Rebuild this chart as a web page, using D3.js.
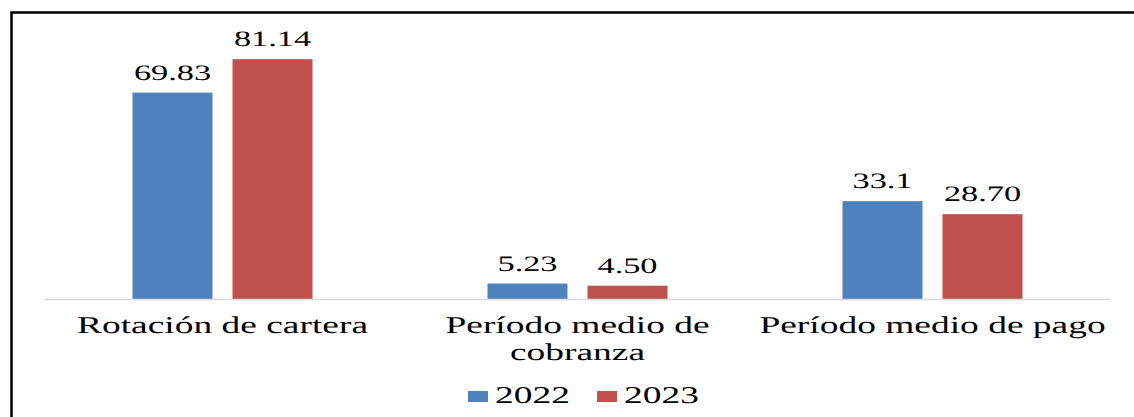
<!DOCTYPE html>
<html>
<head>
<meta charset="utf-8">
<script src="https://cdn.jsdelivr.net/npm/d3@7"></script>
<style>
  html, body { margin: 0; padding: 0; background: #fff; }
  svg { display: block; }
</style>
</head>
<body>
<div id="chart"></div>
<script>
const categories = [["Rotación de cartera"], ["Período medio de", "cobranza"], ["Período medio de pago"]];
const years = ["2022", "2023"];
const values2022 = [69.83, 5.23, 33.1];
const labels2022 = ["69.83", "5.23", "33.1"];
const values2023 = [81.14, 4.50, 28.70];
const labels2023 = ["81.14", "4.50", "28.70"];
const colors = { "2022": "#4F81BD", "2023": "#C0504D" };

const width = 1134, height = 417;
const stretch = 1.56; // the picture is stretched sideways
const plot = { left: 45, right: 1110, base: 299, top: 33 };
const serif = "'Liberation Serif', 'Times New Roman', Times, serif";

const svg = d3.select("#chart").append("svg")
  .attr("width", width)
  .attr("height", height)
  .style("font-family", serif)
  .style("text-rendering", "geometricPrecision");

// frame
svg.append("rect")
  .attr("x", 11.5).attr("y", 12.5)
  .attr("width", 1200).attr("height", 500)
  .attr("fill", "none")
  .attr("stroke", "#000")
  .attr("stroke-width", 2.5);

const keys = categories.map(c => c.join(" "));
const rows = keys.map((k, i) => ({
  key: k,
  lines: categories[i],
  bars: [
    { year: "2022", value: values2022[i], label: labels2022[i] },
    { year: "2023", value: values2023[i], label: labels2023[i] }
  ]
}));

const x0 = d3.scaleBand().domain(keys).range([plot.left, plot.right]).padding(0);
const groupW = 180;
const x1 = d3.scaleBand().domain(years)
  .range([(x0.bandwidth() - groupW) / 2, (x0.bandwidth() + groupW) / 2])
  .paddingInner(0.2).paddingOuter(0);
const y = d3.scaleLinear().domain([0, 90]).range([plot.base, plot.top]);

const groups = svg.selectAll("g.cat")
  .data(rows)
  .enter().append("g")
  .attr("class", "cat")
  .attr("transform", d => `translate(${x0(d.key)},0)`);

groups.selectAll("rect")
  .data(d => d.bars)
  .enter().append("rect")
  .attr("x", d => x1(d.year))
  .attr("y", d => y(d.value))
  .attr("width", x1.bandwidth())
  .attr("height", d => y(0) - y(d.value))
  .attr("fill", d => colors[d.year]);

groups.selectAll("text.val")
  .data(d => d.bars)
  .enter().append("text")
  .attr("class", "val")
  .attr("text-anchor", "middle")
  .attr("font-size", 22)
  .attr("fill", "#000")
  .attr("transform", d => `translate(${x1(d.year) + x1.bandwidth() / 2},${y(d.value) - 13}) scale(${stretch},1)`)
  .text(d => d.label);

// baseline
svg.append("line")
  .attr("x1", plot.left).attr("x2", plot.right)
  .attr("y1", y(0) + 0.5).attr("y2", y(0) + 0.5)
  .attr("stroke", "#d9d9d9")
  .attr("stroke-width", 1.5);

// category labels
groups.each(function(d) {
  const g = d3.select(this);
  d.lines.forEach((line, j) => {
    g.append("text")
      .attr("text-anchor", "middle")
      .attr("font-size", 24)
      .attr("fill", "#000")
      .attr("transform", `translate(${x0.bandwidth() / 2},${333 + j * 27}) scale(${stretch},1)`)
      .text(line);
  });
});

// legend
const legend = svg.append("g").attr("transform", "translate(468,0)");
const item = legend.selectAll("g")
  .data(years)
  .enter().append("g")
  .attr("transform", (d, i) => `translate(${i * 129},0)`);
item.append("rect")
  .attr("x", 0).attr("y", 391)
  .attr("width", 20).attr("height", 11)
  .attr("fill", d => colors[d]);
item.append("text")
  .attr("font-size", 24)
  .attr("fill", "#000")
  .attr("transform", `translate(27,403) scale(${stretch},1)`)
  .text(d => d);
</script>
</body>
</html>
